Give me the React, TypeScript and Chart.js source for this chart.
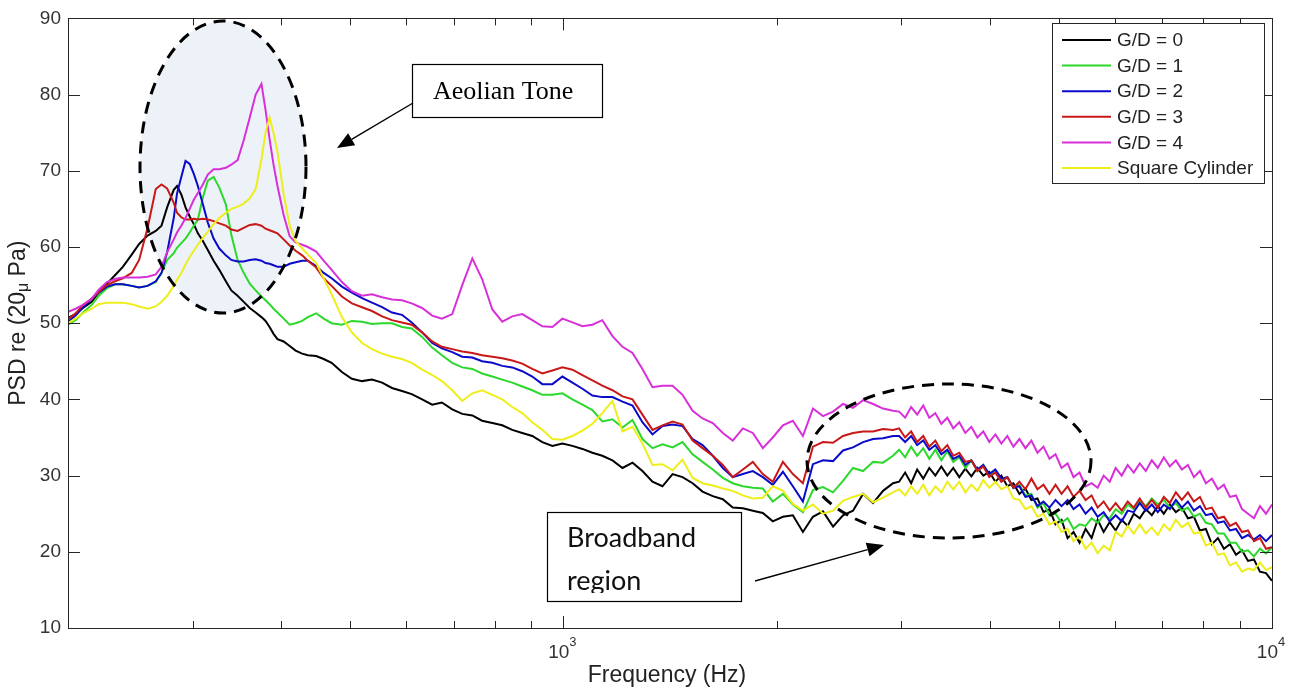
import React, { useEffect, useRef } from "react";
import { Chart, registerables } from "chart.js";

Chart.register(...registerables);

const FONT = '"Liberation Sans", Arial, Helvetica, sans-serif';

// Frequency axis (Hz)
const freqHz = [
  200, 205, 210, 216, 221, 227, 233, 239, 246, 252, 259, 266, 271, 276, 282, 285, 289, 293, 297, 301, 305, 310, 315, 321, 327, 334, 340, 347, 354, 361, 368, 375, 380, 385, 390, 395, 403, 411, 419, 428, 436, 448, 459, 471,
  487, 503, 520, 537, 555, 573, 592, 611, 632, 653, 674, 697, 720, 744, 768, 794, 820, 847, 875, 904, 934, 965, 997, 1030, 1064, 1099, 1135, 1173, 1212, 1252, 1293, 1336, 1380, 1426, 1473, 1522, 1572, 1625, 1679, 1734, 1792, 1851, 1912, 1975, 2041, 2108, 2178, 2250, 2325, 2402, 2481, 2563, 2648, 2736, 2826, 2919,
  2977, 3036, 3096, 3157, 3220, 3284, 3349, 3415, 3482, 3550, 3620, 3692, 3765, 3839, 3914, 3991, 4070, 4150, 4232, 4316, 4401, 4488, 4576, 4667, 4759, 4853, 4949, 5047, 5147, 5247, 5351, 5457, 5565, 5675, 5787, 5902, 6017, 6136, 6257, 6381, 6507, 6636, 6767, 6900, 7036, 7175, 7317, 7461, 7609, 7759, 7912, 8066, 8226, 8388, 8554, 8723, 8896, 9071, 9250, 9430, 9616, 9806, 10000,
];

// PSD (dB re 20 uPa)
const gd0 = [
  50.7, 51.2, 52.0, 52.8, 54.0, 55.2, 56.3, 57.4, 59.0, 60.4, 61.5, 62.1, 62.8, 65.2, 67.5, 68.0, 66.9, 65.2, 64.0, 63.0, 61.8, 60.8, 59.6, 58.2, 57.0, 55.5, 54.3, 53.6, 52.8, 52.0, 51.4, 50.8, 50.3, 49.5, 48.6, 47.9, 47.6, 47.0, 46.4, 46.0, 45.8, 45.7, 45.3, 44.8,
  43.6, 42.7, 42.4, 42.6, 42.2, 41.5, 41.1, 40.7, 40.0, 39.3, 39.6, 38.7, 38.1, 37.9, 37.2, 36.9, 36.6, 36.0, 35.6, 35.2, 34.4, 33.9, 34.2, 33.9, 33.5, 33.0, 32.6, 32.0, 31.0, 31.7, 30.6, 29.2, 28.6, 30.2, 29.8, 29.0, 27.9, 27.3, 26.9, 25.8, 25.7, 25.4, 25.1, 24.0, 24.6, 24.8, 22.6, 24.6, 25.3, 23.3, 24.8, 25.4, 27.6, 26.4, 28.0, 29.0,
  29.2, 30.4, 29.0, 30.8, 29.6, 31.0, 30.0, 31.2, 30.0, 31.0, 29.8, 30.9, 29.9, 31.0, 30.0, 30.5, 29.2, 30.0, 28.6, 29.0, 27.6, 28.3, 26.8, 27.0, 25.2, 25.6, 23.6, 24.2, 21.8, 22.6, 21.2, 23.0, 21.8, 24.2, 22.6, 23.9, 22.8, 24.2, 23.4, 25.0, 24.4, 25.6, 24.8, 26.0, 25.0, 26.2, 25.2, 25.8, 24.4, 24.6, 22.8, 23.0, 21.0, 21.8, 20.4, 21.0, 19.6, 20.2, 18.8, 19.0, 17.4, 17.2, 16.2,
];

const gd1 = [
  49.8, 50.4, 51.4, 52.4, 53.6, 54.6, 55.1, 55.1, 54.9, 54.7, 54.9, 55.4, 56.6, 58.3, 59.2, 59.9, 60.5, 61.1, 61.9, 62.8, 63.6, 66.5, 68.7, 69.2, 67.8, 65.6, 61.6, 58.3, 56.6, 55.2, 54.3, 53.5, 53.0, 52.5, 51.9, 51.4, 50.6, 49.8, 50.0, 50.3, 50.8, 51.3, 50.6, 50.0,
  49.8, 50.3, 50.2, 49.9, 50.0, 50.0, 49.5, 49.3, 48.2, 46.8, 45.8, 44.8, 44.2, 44.0, 43.4, 43.0, 42.6, 42.2, 41.7, 41.2, 40.6, 40.6, 40.8, 40.0, 39.3, 38.6, 37.1, 37.4, 36.3, 37.3, 34.8, 33.6, 34.1, 33.7, 34.4, 32.8, 31.8, 30.8, 29.7, 29.0, 28.6, 28.4, 28.3, 26.6, 27.6, 26.2, 25.2, 28.1, 28.5, 27.8, 29.3, 31.0, 30.6, 31.8, 31.7, 32.6,
  33.4, 32.4, 33.8, 32.6, 33.6, 32.2, 33.4, 32.0, 33.2, 31.8, 32.4, 31.0, 32.0, 30.6, 31.4, 30.0, 30.6, 29.4, 29.8, 28.4, 28.8, 27.4, 27.6, 25.8, 26.4, 24.8, 25.0, 23.8, 24.4, 23.0, 23.6, 23.4, 24.4, 23.8, 24.8, 24.4, 25.6, 25.0, 26.2, 25.6, 26.6, 26.0, 27.0, 26.2, 26.8, 25.8, 26.4, 25.4, 25.8, 24.6, 25.0, 23.8, 23.6, 22.4, 22.4, 21.2, 21.2, 20.0, 20.2, 19.4, 20.4, 19.8, 20.6,
];

const gd2 = [
  50.2, 51.0, 52.1, 53.2, 54.0, 54.8, 55.1, 55.1, 54.9, 54.7, 54.9, 55.5, 56.6, 59.3, 63.8, 67.0, 69.2, 71.3, 70.9, 69.6, 68.0, 65.6, 63.2, 61.1, 59.8, 58.9, 58.3, 58.1, 58.1, 58.3, 58.4, 58.2, 57.9, 57.8, 57.6, 57.4, 57.4, 57.8, 58.0, 58.2, 58.2, 57.5, 56.6, 55.9,
  54.8, 54.0, 53.3, 52.7, 52.1, 51.4, 51.1, 50.1, 48.8, 47.4, 46.7, 46.2, 45.6, 45.5, 45.0, 44.8, 44.4, 44.2, 43.7, 43.0, 42.0, 42.0, 43.0, 42.2, 41.4, 40.5, 40.3, 40.3, 39.7, 39.2, 37.0, 35.4, 36.5, 36.7, 36.5, 34.8, 34.0, 32.6, 31.0, 29.8, 30.2, 30.6, 29.8, 28.8, 30.5, 28.6, 26.6, 31.5, 32.0, 31.9, 33.3, 33.7, 34.4, 34.8, 34.9, 35.2,
  35.2, 34.4, 35.2, 34.0, 34.6, 33.4, 34.0, 32.8, 33.4, 32.2, 32.6, 31.4, 32.0, 30.8, 31.4, 30.2, 30.8, 29.6, 29.8, 28.4, 28.6, 27.2, 27.4, 26.0, 26.6, 25.8, 26.8, 26.0, 26.8, 25.6, 26.2, 25.0, 25.8, 24.6, 25.2, 24.0, 24.8, 24.0, 25.4, 25.2, 26.4, 25.4, 26.2, 25.2, 26.2, 25.6, 26.8, 25.8, 26.6, 25.4, 26.0, 24.8, 25.0, 23.8, 24.0, 22.8, 23.0, 21.8, 22.2, 21.6, 22.2, 21.4, 22.2,
];

const gd3 = [
  50.5, 51.3, 52.4, 53.2, 54.1, 55.0, 55.5, 55.9, 56.6, 58.3, 62.5, 67.6, 68.2, 67.7, 65.8, 64.5, 63.9, 63.6, 63.6, 63.7, 63.6, 63.7, 63.6, 63.4, 63.1, 62.8, 62.3, 62.1, 62.5, 62.9, 63.0, 62.8, 62.4, 62.2, 62.0, 61.8, 61.0, 60.2, 59.5, 58.9, 58.2, 57.3, 55.9, 54.9,
  53.5, 52.6, 52.1, 51.6, 50.9, 50.4, 50.1, 49.8, 48.8, 47.6, 46.9, 46.6, 46.3, 46.1, 45.8, 45.6, 45.4, 45.1, 44.7, 44.0, 43.4, 43.8, 44.2, 43.9, 43.2, 42.5, 41.8, 41.2, 40.4, 40.0, 38.0, 36.0, 36.6, 37.1, 36.7, 34.6, 33.6, 32.6, 31.4, 29.8, 30.8, 31.8, 30.2, 29.2, 31.8, 30.2, 29.0, 33.8, 34.4, 34.3, 35.2, 35.6, 35.8, 35.8, 36.1, 36.0,
  36.2, 35.0, 35.8, 34.4, 35.2, 33.8, 34.6, 33.2, 34.0, 32.6, 33.0, 31.8, 32.0, 30.6, 31.2, 29.8, 30.4, 29.2, 29.8, 28.4, 29.2, 28.2, 29.6, 28.2, 28.8, 27.6, 28.8, 27.6, 28.6, 27.2, 28.0, 26.8, 27.4, 25.8, 26.6, 25.4, 26.4, 25.4, 26.6, 25.8, 27.0, 25.8, 26.8, 25.8, 27.2, 26.4, 27.8, 26.8, 27.8, 26.6, 27.2, 25.6, 25.8, 24.4, 24.6, 23.4, 23.8, 22.6, 22.8, 21.4, 21.8, 20.4, 20.6,
];

const gd4 = [
  51.5, 51.9, 52.4, 53.2, 54.4, 55.4, 55.8, 56.0, 56.0, 56.0, 56.1, 56.4, 57.4, 59.3, 61.0, 61.9, 62.8, 63.8, 65.0, 66.2, 67.1, 68.2, 69.5, 70.2, 70.2, 70.4, 70.8, 71.4, 74.0, 77.0, 80.0, 81.4, 78.0, 74.2, 70.8, 68.0, 64.2, 61.4, 60.6, 60.3, 60.0, 59.4, 58.2, 57.0,
  55.4, 54.2, 53.6, 53.8, 53.4, 53.1, 53.0, 52.6, 52.0, 51.0, 50.6, 51.2, 55.0, 58.5, 55.8, 51.8, 50.2, 50.9, 51.2, 50.4, 49.6, 49.5, 50.6, 50.1, 49.6, 49.8, 50.4, 48.3, 46.9, 46.1, 44.0, 41.6, 41.8, 41.8, 40.6, 38.5, 37.5, 36.9, 35.6, 34.6, 36.2, 35.6, 33.6, 35.0, 36.6, 37.2, 35.2, 38.8, 37.8, 38.4, 39.4, 38.9, 39.9, 39.4, 38.8, 38.5,
  38.4, 37.6, 39.0, 38.0, 39.2, 37.6, 38.2, 36.8, 37.6, 36.2, 37.0, 35.6, 36.4, 35.0, 35.8, 34.4, 35.4, 34.2, 35.2, 33.8, 34.8, 33.6, 34.6, 33.0, 33.8, 32.2, 32.8, 31.0, 31.6, 29.8, 30.4, 28.6, 29.0, 28.4, 30.0, 29.2, 31.0, 30.0, 31.4, 30.4, 31.6, 30.6, 32.0, 31.0, 32.4, 31.2, 32.0, 30.8, 31.4, 29.8, 30.6, 29.0, 29.6, 28.2, 28.8, 27.2, 27.4, 25.6, 25.0, 24.4, 26.0, 25.0, 26.2,
];

const squareCyl = [
  50.0, 50.6, 51.3, 51.9, 52.5, 52.7, 52.7, 52.7, 52.5, 52.2, 51.9, 52.2, 52.8, 53.6, 54.9, 55.7, 56.6, 57.7, 58.7, 59.5, 60.3, 61.2, 62.0, 63.0, 63.8, 64.5, 65.0, 65.3, 65.7, 66.4, 67.6, 71.5, 75.0, 77.0, 75.0, 72.5, 67.0, 62.8, 60.8, 59.8, 59.0, 57.9, 55.9, 53.8,
  50.8, 48.8, 47.4, 46.6, 46.0, 45.6, 45.3, 44.8, 43.9, 43.2, 42.4, 41.2, 39.8, 40.8, 41.2, 40.6, 40.0, 39.0, 38.2, 37.0, 36.0, 34.8, 34.7, 35.2, 35.9, 36.8, 38.2, 39.8, 35.8, 36.4, 34.2, 31.4, 31.5, 30.7, 32.1, 29.7, 29.0, 28.7, 28.3, 28.0, 27.4, 27.0, 27.1, 28.6, 28.0, 26.3, 25.4, 26.2, 25.0, 25.4, 26.7, 27.2, 27.6, 26.5, 27.1, 27.8,
  28.2, 27.4, 28.6, 27.6, 28.8, 27.4, 28.6, 27.8, 29.2, 28.2, 29.2, 27.8, 28.8, 28.0, 29.4, 28.4, 29.2, 28.2, 28.6, 27.0, 26.8, 25.6, 26.0, 24.6, 25.0, 23.6, 24.0, 22.6, 23.0, 21.4, 22.0, 20.4, 21.2, 19.8, 20.8, 20.2, 22.6, 22.0, 23.4, 22.4, 23.6, 22.4, 23.2, 22.2, 23.6, 22.8, 24.2, 23.2, 23.8, 22.4, 22.6, 20.8, 21.2, 19.6, 19.8, 18.2, 18.6, 17.4, 17.8, 17.6, 18.6, 17.6, 18.0,
];

const seriesLabels = ["G/D = 0", "G/D = 1", "G/D = 2", "G/D = 3", "G/D = 4", "Square Cylinder"];
const seriesColors = ["#000000", "#2bd82b", "#0a0ac8", "#c81818", "#d830d8", "#eeee1a"];
const seriesValues = [gd0, gd1, gd2, gd3, gd4, squareCyl];

const yTickValues = [10, 20, 30, 40, 50, 60, 70, 80, 90];
const xMajorTicks = [1000, 10000];
const xMajorExponents = ["3", "4"];
const xMinorTicks = [200, 300, 400, 500, 600, 700, 800, 900, 2000, 3000, 4000, 5000, 6000, 7000, 8000, 9000];

const xTitle = "Frequency (Hz)";
const yTitleParts = ["PSD re (20", "\u03bc", " Pa)"];
const aeolianLabel = "Aeolian Tone";
const broadbandLines = ["Broadband", "region"];

function drawArrow(ctx: CanvasRenderingContext2D, x1: number, y1: number, x2: number, y2: number) {
  const ang = Math.atan2(y2 - y1, x2 - x1);
  const head = 17;
  const half = 7;
  const bx = x2 - head * Math.cos(ang);
  const by = y2 - head * Math.sin(ang);
  ctx.beginPath();
  ctx.moveTo(x1, y1);
  ctx.lineTo(bx, by);
  ctx.stroke();
  ctx.beginPath();
  ctx.moveTo(x2, y2);
  ctx.lineTo(bx + half * Math.sin(ang), by - half * Math.cos(ang));
  ctx.lineTo(bx - half * Math.sin(ang), by + half * Math.cos(ang));
  ctx.closePath();
  ctx.fill();
}

const overlayPlugin = {
  id: "overlay",
  beforeDatasetsDraw(chart: any) {
    const ctx: CanvasRenderingContext2D = chart.ctx;
    ctx.save();
    ctx.beginPath();
    ctx.ellipse(223, 167, 83, 146, 0, 0, Math.PI * 2);
    ctx.fillStyle = "#edf2f8";
    ctx.fill();
    ctx.restore();
  },
  afterDatasetsDraw(chart: any) {
    const ctx: CanvasRenderingContext2D = chart.ctx;
    const a = chart.chartArea;
    const xs = chart.scales.x;
    const ys = chart.scales.y;
    ctx.save();

    // dashed ellipses
    ctx.setLineDash([12, 8]);
    ctx.lineWidth = 3;
    ctx.strokeStyle = "#000";
    ctx.beginPath();
    ctx.ellipse(223, 167, 83, 146, 0, 0, Math.PI * 2);
    ctx.stroke();
    ctx.beginPath();
    ctx.ellipse(949, 461, 142, 77, 0, 0, Math.PI * 2);
    ctx.stroke();
    ctx.setLineDash([]);

    // axes box
    ctx.lineWidth = 1;
    ctx.strokeStyle = "#262626";
    ctx.strokeRect(Math.round(a.left) + 0.5, Math.round(a.top) + 0.5, Math.round(a.right - a.left), Math.round(a.bottom - a.top));

    // ticks (inward, all four sides)
    ctx.beginPath();
    yTickValues.forEach((v) => {
      const py = Math.round(ys.getPixelForValue(v)) + 0.5;
      ctx.moveTo(a.left, py);
      ctx.lineTo(a.left + 12, py);
      ctx.moveTo(a.right, py);
      ctx.lineTo(a.right - 12, py);
    });
    xMajorTicks.forEach((v) => {
      const px = Math.round(xs.getPixelForValue(v)) + 0.5;
      ctx.moveTo(px, a.bottom);
      ctx.lineTo(px, a.bottom - 12);
      ctx.moveTo(px, a.top);
      ctx.lineTo(px, a.top + 12);
    });
    xMinorTicks.forEach((v) => {
      const px = Math.round(xs.getPixelForValue(v)) + 0.5;
      ctx.moveTo(px, a.bottom);
      ctx.lineTo(px, a.bottom - 7);
      ctx.moveTo(px, a.top);
      ctx.lineTo(px, a.top + 7);
    });
    ctx.stroke();

    // x tick labels 10^n
    ctx.fillStyle = "#333";
    xMajorTicks.forEach((v, i) => {
      const px = xs.getPixelForValue(v);
      ctx.font = "19px " + FONT;
      ctx.textAlign = "right";
      ctx.textBaseline = "alphabetic";
      ctx.fillText("10", px + 6, 658);
      ctx.font = "13px " + FONT;
      ctx.textAlign = "left";
      ctx.fillText(xMajorExponents[i], px + 6, 646);
    });

    // x title
    ctx.font = "23px " + FONT;
    ctx.fillStyle = "#222";
    ctx.textAlign = "center";
    ctx.textBaseline = "middle";
    ctx.fillText(xTitle, 667, 676);

    // y title with subscript
    ctx.save();
    ctx.translate(19, (a.top + a.bottom) / 2);
    ctx.rotate(-Math.PI / 2);
    const sizes = [23, 16, 23];
    const offs = [0, 5, 0];
    let total = 0;
    const widths = yTitleParts.map((t, i) => {
      ctx.font = sizes[i] + "px " + FONT;
      const w = ctx.measureText(t).width;
      total += w;
      return w;
    });
    let cx = -total / 2;
    ctx.textAlign = "left";
    ctx.textBaseline = "middle";
    yTitleParts.forEach((t, i) => {
      ctx.font = sizes[i] + "px " + FONT;
      ctx.fillText(t, cx, offs[i]);
      cx += widths[i];
    });
    ctx.restore();

    ctx.restore();
  },
  afterDraw(chart: any) {
    const ctx: CanvasRenderingContext2D = chart.ctx;
    ctx.save();

    // Legend
    ctx.fillStyle = "#fff";
    ctx.fillRect(1052, 23, 212, 160);
    ctx.lineWidth = 1;
    ctx.strokeStyle = "#262626";
    ctx.strokeRect(1052.5, 23.5, 212, 160);
    seriesLabels.forEach((lab, i) => {
      const yy = 40 + 25.6 * i;
      ctx.strokeStyle = seriesColors[i];
      ctx.lineWidth = 2;
      ctx.beginPath();
      ctx.moveTo(1062, yy);
      ctx.lineTo(1111, yy);
      ctx.stroke();
      ctx.fillStyle = "#222";
      ctx.font = "19px " + FONT;
      ctx.textAlign = "left";
      ctx.textBaseline = "middle";
      ctx.fillText(lab, 1117, yy + 1);
    });

    // Aeolian Tone box + arrow
    ctx.fillStyle = "#fff";
    ctx.fillRect(412, 64, 190, 53);
    ctx.strokeStyle = "#000";
    ctx.lineWidth = 1.2;
    ctx.strokeRect(412.5, 64.5, 190, 53);
    ctx.fillStyle = "#000";
    ctx.font = '26px "Liberation Serif", "Times New Roman", serif';
    ctx.textAlign = "left";
    ctx.textBaseline = "alphabetic";
    ctx.fillText(aeolianLabel, 433, 99);
    ctx.lineWidth = 1.4;
    drawArrow(ctx, 413, 103, 337, 148);

    // Broadband region box + arrow
    ctx.fillStyle = "#fff";
    ctx.fillRect(547, 512, 194, 89);
    ctx.strokeStyle = "#000";
    ctx.lineWidth = 1.2;
    ctx.strokeRect(547.5, 512.5, 194, 89);
    ctx.save();
    ctx.beginPath();
    ctx.rect(548, 513, 192, 80);
    ctx.clip();
    ctx.fillStyle = "#111";
    ctx.font = '27px Lato, "Open Sans", sans-serif';
    ctx.textAlign = "left";
    ctx.textBaseline = "alphabetic";
    ctx.fillText(broadbandLines[0], 567, 547);
    ctx.fillText(broadbandLines[1], 567, 590);
    ctx.restore();
    ctx.fillStyle = "#000";
    ctx.strokeStyle = "#000";
    ctx.lineWidth = 1.4;
    drawArrow(ctx, 755, 581, 884, 545);

    ctx.restore();
  },
};

export default function App() {
  const ref = useRef<HTMLCanvasElement | null>(null);
  useEffect(() => {
    if (!ref.current) return;
    const datasets = seriesValues.map((vals, i) => ({
      label: seriesLabels[i],
      data: freqHz.map((f, j) => ({ x: f, y: vals[j] })),
      borderColor: seriesColors[i],
      backgroundColor: seriesColors[i],
      borderWidth: 2,
      pointRadius: 0,
      tension: 0,
      fill: false,
      order: seriesLabels.length - i,
    }));
    const chart = new Chart(ref.current, {
      type: "line",
      data: { datasets },
      plugins: [overlayPlugin],
      options: {
        animation: false,
        responsive: false,
        devicePixelRatio: 1,
        events: [],
        layout: { padding: { left: 0, right: 31, top: 14, bottom: 0 } },
        plugins: {
          legend: { display: false },
          tooltip: { enabled: false },
          title: { display: false },
        },
        scales: {
          x: {
            type: "logarithmic",
            position: "bottom",
            min: 200,
            max: 10000,
            ticks: { display: false },
            grid: { display: false, drawTicks: false },
            border: { display: false },
            afterFit: (s: any) => {
              s.height = 67;
            },
          },
          y: {
            type: "linear",
            position: "left",
            min: 10,
            max: 90,
            ticks: {
              stepSize: 10,
              padding: 7,
              color: "#333",
              font: { size: 19, family: FONT },
            },
            grid: { display: false, drawTicks: false },
            border: { display: false },
            afterFit: (s: any) => {
              s.width = 68;
            },
          },
        },
      } as any,
    });
    return () => chart.destroy();
  }, []);
  return (
    <div style={{ position: "absolute", left: 0, top: 0, width: 1303, height: 695, background: "#fff" }}>
      <canvas ref={ref} width={1303} height={695} style={{ display: "block", width: 1303, height: 695 }} />
    </div>
  );
}
